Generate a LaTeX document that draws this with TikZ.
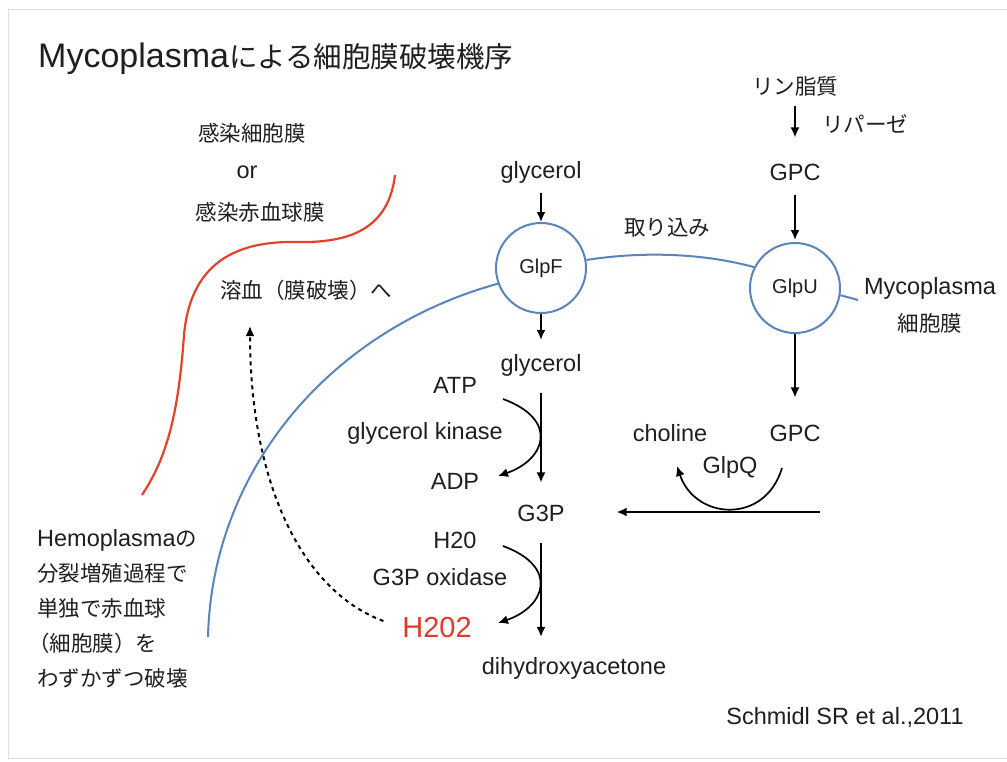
\documentclass[tikz,border=0pt]{standalone}
\usepackage{fontspec}
\setmainfont{Liberation Sans}
\newfontfamily\jpf{Noto Sans CJK JP}
\usetikzlibrary{arrows.meta}
\definecolor{memblue}{HTML}{5B84B8}
\definecolor{redm}{HTML}{E2432B}
\definecolor{hred}{HTML}{DD3C2A}
\newcommand{\J}[1]{{\jpf\fontsize{21.5pt}{35pt}\selectfont #1}}
\newcommand{\JT}[1]{{\jpf\fontsize{28.5pt}{35pt}\selectfont #1}}
\begin{document}
\begin{tikzpicture}[x=1pt,y=-1pt,
  every node/.style={font=\fontsize{23.5pt}{35pt}\selectfont, inner sep=0pt, text=black!88},
  arr/.style={-{Latex[length=10pt,width=9pt]}, line width=1.7pt, black},
  port/.style={circle, draw=memblue, line width=2pt, minimum size=90pt, fill=white, font=\fontsize{20pt}{24pt}\selectfont},
  mem/.style={draw=memblue, line width=2pt},
]
\useasboundingbox (0,0) rectangle (1007,761);
\fill[white] (0,0) rectangle (1007,761);
\draw[black!12, line width=1pt] (1007,9) -- (8,9) -- (8,758) -- (1007,758);

% title
\node (title) [anchor=base west, font=\fontsize{34pt}{40pt}\selectfont] at (38,67) {Mycoplasma\JT{による細胞膜破壊機序}};

% host membrane labels
\node (inf1) at (252,133) {\J{感染細胞膜}};
\node (or) at (247,172) {or};
\node (inf2) at (260,212) {\J{感染赤血球膜}};
\node (hemo) at (306,290) {\J{溶血（膜破壊）へ}};

% glycerol pathway
\node (gly1) at (541,172) {glycerol};
\node[port] (F) at (541,268) {GlpF};
\node (gly2) at (541,365) {glycerol};
\node (atp) at (455,385) {ATP};
\node (gk) at (425,433) {glycerol kinase};
\node (adp) at (455,481) {ADP};
\node (g3p) at (541,513) {G3P};
\node (h2o) at (455,540) {H20};
\node (gox) at (440,577) {G3P oxidase};
\node (h2o2) [text=hred, font=\fontsize{29pt}{35pt}\selectfont] at (437,628) {H202};
\node (dha) at (574,668) {dihydroxyacetone};

% GPC pathway
\node (uptake) at (667,228) {\J{取り込み}};
\node (lipid) at (795,86) {\J{リン脂質}};
\node (lipase) at (865,124) {\J{リパーゼ}};
\node (gpc1) at (795,172) {GPC};
\node[port] (U) at (795,288) {GlpU};
\node (myco) at (930,288) {Mycoplasma};
\node (mycomem) at (930,323) {\J{細胞膜}};
\node (gpc2) at (795,433) {GPC};
\node (chol) at (670,433) {choline};
\node (glpq) at (730,467) {GlpQ};

% left text block
\node (l1) [anchor=base west] at (37,546) {Hemoplasma\J{の}};
\node (l2) [anchor=base west] at (37,581) {\J{分裂増殖過程で}};
\node (l3) [anchor=base west] at (37,616) {\J{単独で赤血球}};
\node (l4) [anchor=base west] at (28,651) {\J{（細胞膜）を}};
\node (l5) [anchor=base west] at (37,686) {\J{わずかずつ破壊}};

\node (ref) at (845,717) {Schmidl SR et al.,2011};

% membranes
\draw[redm, line width=2.2pt] (395,175) .. controls (388,235) and (340,243) .. (295,242)
  .. controls (230,241) and (190,268) .. (184,335)
  .. controls (178,420) and (165,460) .. (142,495);
\coordinate (mstart) at (208,637);
\coordinate (mend) at (858,300);
\draw[mem] (mstart) .. controls (212,470) and (330,330) .. (F.200);
\draw[mem] (F.10) .. controls (650,250) and (710,255) .. (U.153);
\draw[mem] (U.-9) -- (mend);

% straight arrows
\draw[arr, shorten <=10pt] (gly1) -- (F);
\draw[arr, shorten >=14pt] (F) -- (gly2);
\draw[arr, shorten <=17pt, shorten >=22pt] (gly2) -- (g3p);
\draw[arr, shorten <=21pt, shorten >=20pt] (g3p.south) -- (g3p.south |- dha.north);
\draw[arr, shorten <=10pt, shorten >=26pt] (lipid) -- (gpc1);
\draw[arr, shorten <=14pt, shorten >=2pt] (gpc1) -- (U);
\draw[arr, shorten >=27pt] (U) -- (gpc2);
\coordinate (hin) at (820,512);
\draw[arr, shorten >=52pt] (hin) -- (g3p.east |- hin);

% curved side arrows
\coordinate (k1) at (503,399);
\coordinate (k2) at (498,476);
\draw[arr] (k1) .. controls (560,420) and (545,460) .. (k2);
\coordinate (o1) at (503,546);
\coordinate (o2) at (498,623);
\draw[arr] (o1) .. controls (560,567) and (545,607) .. (o2);
\coordinate (q1) at (782,468);
\coordinate (q2) at (677,466);
\draw[arr] (q1) .. controls (765,525) and (695,520) .. (q2);

% dashed H2O2 arrow
\coordinate (lysis) at (250,326);
\draw[arr, line width=2pt, dash pattern=on 4pt off 4pt, shorten <=20pt] (h2o2.west) .. controls (300,590) and (250,480) .. (lysis);
\end{tikzpicture}
\end{document}
